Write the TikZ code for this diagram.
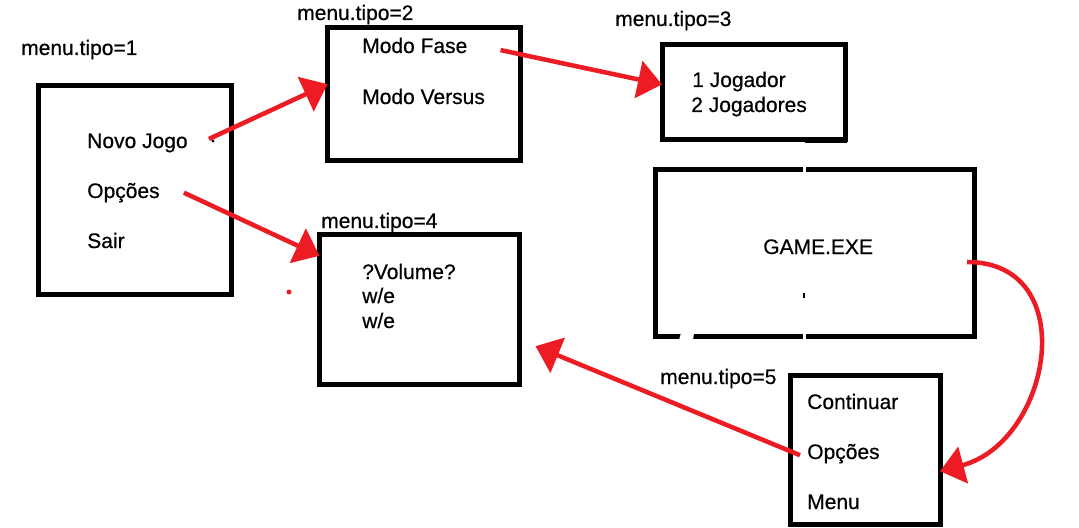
\documentclass[tikz,border=0pt]{standalone}
\usepackage{fontspec}
\setmainfont{Liberation Sans}
\newfontfamily\paintfont{Liberation Sans}[FakeBold=0.5]
\usetikzlibrary{arrows.meta, calc}
\definecolor{PaintRed}{HTML}{ED1C24}

\begin{document}
\begin{tikzpicture}[
    x=0.75pt, y=0.75pt,
    menubox/.style={draw=black, line width=3.75pt, inner sep=0pt, outer sep=0pt},
    item/.style={anchor=base west, inner sep=0pt, font=\paintfont\fontsize{15.75}{18}\selectfont},
    link/.style={draw=PaintRed, line width=3.4pt, -{Triangle[length=18pt, width=28pt]}}
]
  \useasboundingbox (0,0) rectangle (1079,-528);

  % Menu boxes
  \node[menubox, minimum width=144.4pt, minimum height=156pt] (b1) at (135.25,-190) {};
  \node[menubox, minimum width=144.4pt, minimum height=99.4pt] (b2) at (423.75,-94.25) {};
  \node[menubox, minimum width=137.25pt, minimum height=71.25pt] (b3) at (753.5,-92.5) {};
  \node[menubox, minimum width=150pt, minimum height=112.5pt] (b4) at (419.5,-309) {};
  \node[menubox, minimum width=238.9pt, minimum height=125.6pt] (game) at (814.75,-252.75) {};
  \node[menubox, minimum width=112.5pt, minimum height=112.1pt] (b5) at (865,-449.75) {};

  % Menu type labels
  \foreach \n/\x/\y in {1/21/55, 2/297/20, 3/615/26, 4/321/228, 5/660/384}{
    \node[item] (tipo\n) at (\x,-\y) {menu.tipo=\n};
  }

  % Entries
  \node[item] (novo) at (87,-148) {Novo Jogo};
  \node[item] (opc1) at (87,-198) {Opções};
  \node[item] (sair) at (87,-248) {Sair};
  \node[item] (fase) at (362,-53) {Modo Fase};
  \node[item] (versus) at (362,-104) {Modo Versus};
  \node[item] (um) at (692,-87) {1 Jogador};
  \node[item] (dois) at (691,-112) {2 Jogadores};
  \node[item] (vol) at (362,-279) {?Volume?};
  \node[item] (we1) at (362,-303) {w/e};
  \node[item] (we2) at (362,-328) {w/e};
  \node[item] (exe) at (763,-254) {GAME.EXE};
  \node[item] (cont) at (807,-409) {Continuar};
  \node[item] (opc5) at (807,-459) {Opções};
  \node[item] (menu) at (807,-509) {Menu};

  % Paint leftovers
  \fill[white] (803,-165) rectangle (805.5,-173);
  \fill[white] (803,-332) rectangle (805.5,-340);
  \fill[white] (681,-333) -- (694,-333) -- (693,-340) -- (679,-340) -- cycle;
  \fill (803,-293) rectangle (805,-298);
  \fill (805,-141.5) rectangle (847,-143.5);
  \fill (213,-141) circle (1.6);
  \fill[PaintRed] (289,-292) circle (2.5);

  % Arrows
  \draw[link] ($(novo.east)+(21,4)$) -- (b2.174);
  \draw[link] ($(fase.east)+(33,-4.6)$) -- (b3.175);
  \draw[link] ($(opc1.east)+(24,0)$) -- (b4.152);
  \draw[link, shorten >=13] ($(opc5.west)+(-7,-1.5)$) -- (b4.-17);
  \draw[link] ($(game.east)+(-7,-9.25)$) to[out=0, in=15, looseness=1.4] (b5.-16);
\end{tikzpicture}
\end{document}
